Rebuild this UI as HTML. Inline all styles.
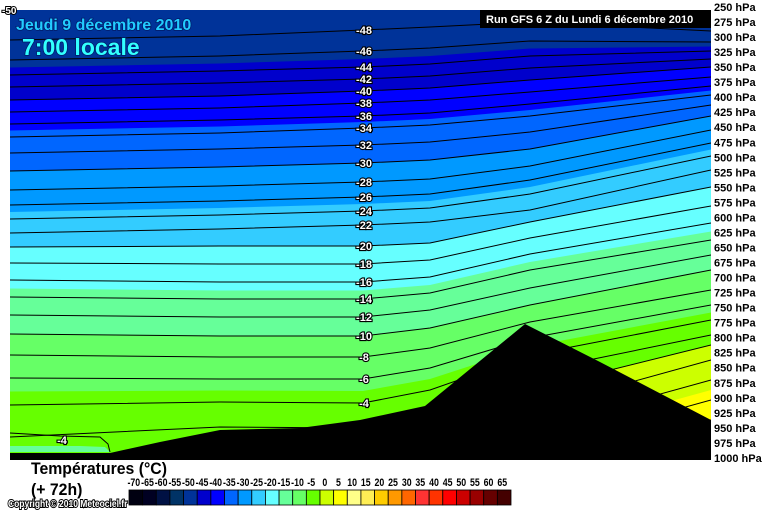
<!DOCTYPE html>
<html><head><meta charset="utf-8"><style>
body{margin:0;background:#fff;width:768px;height:512px;overflow:hidden;font-family:"Liberation Sans",Arial,sans-serif}
svg{display:block}
svg text{font-family:"Liberation Sans",Arial,sans-serif;font-weight:bold}
</style></head><body>
<svg id="s" width="768" height="512" xmlns="http://www.w3.org/2000/svg">
<defs><clipPath id="pc"><rect x="10" y="10" width="701" height="450"/></clipPath></defs>
<g id="plot" clip-path="url(#pc)"></g>
<g id="lbl"></g>
<rect x="480" y="10" width="231" height="18" fill="#000"/>
<text x="486" y="23" font-size="11" fill="#fff">Run GFS 6 Z du Lundi 6 décembre 2010</text>
<text x="16" y="30" font-size="16" fill="#22ccff" stroke="#001a66" stroke-width="1.5" paint-order="stroke">Jeudi 9 décembre 2010</text>
<text x="22" y="55" font-size="23" fill="#33ffff" stroke="#001a66" stroke-width="1.5" paint-order="stroke">7:00 locale</text>
<text x="2" y="14" font-size="10" fill="#fff" stroke="#000" stroke-width="2" paint-order="stroke">-50</text>
<g id="axis"></g>
<text x="31" y="474" font-size="17" fill="#000" transform="translate(31,0) scale(0.93,1) translate(-31,0)">Températures (°C)</text>
<text x="31" y="495" font-size="17" fill="#000" transform="translate(31,0) scale(0.93,1) translate(-31,0)">(+ 72h)</text>
<text x="8" y="507" font-size="10" fill="#fff" stroke="#000" stroke-width="2" paint-order="stroke" transform="translate(8,0) scale(0.85,1) translate(-8,0)">Copyright © 2010 Meteociel.fr</text>
<g id="cb"></g>
</svg>
<script>
var NS="http://www.w3.org/2000/svg";
function el(p,t,a,txt){var e=document.createElementNS(NS,t);for(var k in a)e.setAttribute(k,a[k]);if(txt!=null)e.textContent=txt;p.appendChild(e);return e;}
var X=[10,220,363,430,530,711];
var C=[
[8,40,60,75,87,100,112,124,137,153,171,190,205,219,233,247,263,280,297,315,334,355,378,405,437,470,500,530,560,590,620],
[6,36,56,71,83,96,108,120,133,149,167,186,201,215,229,246,264,282,299,317,336,357,379,402,427,455,485,515,545,575,605],
[4,30,51,67,79,91,103,116,128,145,163,182,197,211,225,246,264,282,299,317,336,357,379,403,428,455,485,515,545,575,605],
[2,27,48,64,76,88,100,113,125,142,160,179,194,208,222,243,260,277,293,310,328,348,368,390,412,435,460,490,520,550,580],
[0,22,41,56,68,80,92,104,116,132,149,166,180,194,210,222,238,254,270,288,305,322,338,355,372,390,410,430,450,470,490],
[0,31,42,51,59,67,77,86,95,105,116,130,143,156,170,187,206,223,240,255,270,290,305,320,335,345,360,380,400,420,440]];
function yAt(ci,t){var f=(t+50)/2;var i=Math.floor(f);if(i>=30)i=29;var r=f-i;return C[ci][i]+(C[ci][i+1]-C[ci][i])*r;}
function curve(t){var s=[];for(var c=0;c<X.length;c++)s.push(X[c]+","+yAt(c,t).toFixed(1));return s;}
var g=document.getElementById("plot");
var cols={"-50":"#003399","-45":"#0000cc","-40":"#0000ff","-35":"#0066ff","-30":"#0099ff","-25":"#33ccff","-20":"#66ffff","-15":"#66ff99","-10":"#66ff66","-5":"#66ff00","0":"#ccff00","5":"#ffff00"};
el(g,"rect",{x:0,y:0,width:768,height:512,fill:cols["-50"]});
for(var t=-45;t<=5;t+=5){var pts=curve(t);pts.push("711,512","10,512");el(g,"polygon",{points:pts.join(" "),fill:cols[t]});}
el(g,"polygon",{points:"10,446 80,446 105,447 110,452 10,452",fill:"#66ff99"});
for(var t=-48;t<=8;t+=2){el(g,"polyline",{points:curve(t).join(" "),fill:"none",stroke:"#000","stroke-width":1});}
el(g,"polyline",{points:"10,433 60,436 100,437 108,444 110,452",fill:"none",stroke:"#000","stroke-width":1});
el(g,"polygon",{points:"10,453 110,453 160,442 220,430 300,428 360,420 425,406 525,324 600,362 711,420 711,460 10,460",fill:"#000"});
var L=document.getElementById("lbl");
var ly={"-48":30,"-46":51,"-44":67,"-42":79,"-40":91,"-38":103,"-36":116,"-34":128,"-32":145,"-30":163,"-28":182,"-26":197,"-24":211,"-22":225,"-20":246,"-18":264,"-16":282,"-14":299,"-12":317,"-10":336,"-8":357,"-6":379,"-4":403};
for(var k in ly){el(L,"text",{x:364,y:ly[k]+4,"font-size":11,fill:"#fff",stroke:"#000","stroke-width":2.2,"paint-order":"stroke","text-anchor":"middle"},k);}
el(L,"text",{x:62,y:444,"font-size":11,fill:"#fff",stroke:"#000","stroke-width":2.2,"paint-order":"stroke","text-anchor":"middle"},"-4");
var A=document.getElementById("axis");
for(var i=0;i<=30;i++){var p=250+25*i;el(A,"text",{x:714,y:(11+i*15.03).toFixed(1),"font-size":11,fill:"#000"},p+" hPa");}
var B=document.getElementById("cb");
var cc=["#000011","#000022","#001144","#003366","#003399","#0000cc","#0000ff","#0066ff","#0099ff","#33ccff","#66ffff","#66ff99","#66ff66","#66ff00","#ccff00","#ffff00","#ffff88","#ffee55","#ffcc00","#ff9900","#ff6600","#ff3333","#ff3300","#ff0000","#cc0000","#990000","#660000","#440000"];
var w=382/28;
for(var i=0;i<28;i++){el(B,"rect",{x:(129+i*w).toFixed(2),y:490,width:w.toFixed(2),height:15,fill:cc[i],stroke:"#000","stroke-width":0.8});
var cx=129+i*w+w/2-2;
el(B,"text",{x:0,y:0,"font-size":11,fill:"#000","text-anchor":"middle",transform:"translate("+cx.toFixed(1)+",486) scale(0.8,1)"},String(-70+5*i));}
</script>
</body></html>
